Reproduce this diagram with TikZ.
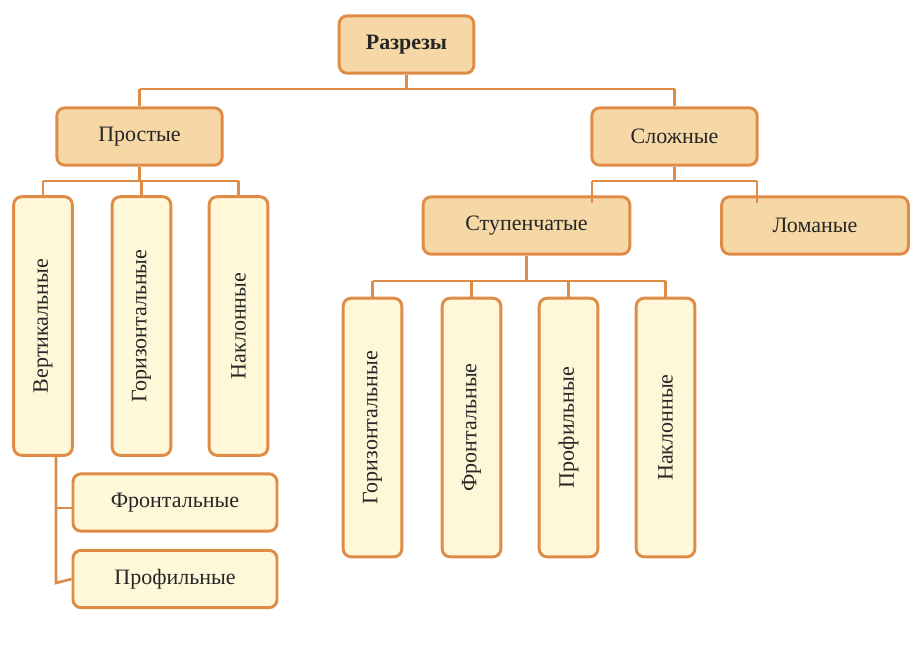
\documentclass[tikz,border=0pt]{standalone}
\usepackage{fontspec}
\setmainfont{Liberation Serif}
\definecolor{edge}{RGB}{222,140,70}
\definecolor{dark}{RGB}{246,216,166}
\definecolor{light}{RGB}{254,248,216}
\tikzset{
  box/.style={draw=edge,line width=2.2pt,rounded corners=6pt,inner sep=0pt,
    font=\fontsize{16.5}{19}\selectfont,text=black!85},
  main/.style={box,fill=dark},
  sub/.style={box,fill=light},
  upright/.style={rotate=90},
  link/.style={draw=edge,line width=2pt}
}
\begin{document}
\begin{tikzpicture}[x=0.75pt,y=0.75pt,yscale=-1,xscale=1]
\useasboundingbox (0,0) rectangle (916,646);

% top levels
\node [main,minimum width=101pt,minimum height=43pt,font=\fontsize{16.5}{19}\selectfont\bfseries] (cuts) at (406.5,44.5) {Разрезы};
\node [main,minimum width=124pt,minimum height=43pt] (simple) at (139.5,136.5) {Простые};
\node [main,minimum width=124pt,minimum height=43pt] (complex) at (674.5,136.5) {Сложные};
\node [main,minimum width=155pt,minimum height=43pt] (step) at (526.5,225.5) {Ступенчатые};
\node [main,minimum width=140pt,minimum height=43pt] (broken) at (815,225.5) {Ломаные};

% simple branch
\node [sub,upright,minimum width=194pt,minimum height=44pt] (vert) at (43,326) {Вертикальные};
\node [sub,upright,minimum width=194pt,minimum height=44pt] (horiz) at (141.5,326) {Горизонтальные};
\node [sub,upright,minimum width=194pt,minimum height=44pt] (incl) at (238.5,326) {Наклонные};
\node [sub,minimum width=153pt,minimum height=43pt] (front) at (175,502.5) {Фронтальные};
\node [sub,minimum width=153pt,minimum height=43pt] (prof) at (175,579) {Профильные};

% stepped branch
\node [sub,upright,minimum width=194pt,minimum height=44pt] (shoriz) at (372.5,427.5) {Горизонтальные};
\node [sub,upright,minimum width=194pt,minimum height=44pt] (sfront) at (471.5,427.5) {Фронтальные};
\node [sub,upright,minimum width=194pt,minimum height=44pt] (sprof) at (568.5,427.5) {Профильные};
\node [sub,upright,minimum width=194pt,minimum height=44pt] (sincl) at (665.5,427.5) {Наклонные};

% connectors
\coordinate (cutsbus) at (406.5,89);
\coordinate (simplebus) at (139.5,181);
\coordinate (complexbus) at (674.5,181);
\coordinate (stepbus) at (526.5,281);
\path[link] (cuts) -- (cutsbus) (simple.north |- cutsbus) -- (complex.north |- cutsbus);
\path[link] (simple.north |- cutsbus) -- (simple.north) (complex.north |- cutsbus) -- (complex.north);
\path[link] (simple) -- (simplebus) (vert.east |- simplebus) -- (incl.east |- simplebus);
\foreach \n in {vert,horiz,incl} \path[link] (\n.east |- simplebus) -- (\n.east);
\path[link] (complex) -- (complexbus) (592,181) -- (757,181);
\path[link] (592,181) -- (592,203) (757,181) -- (757,203);
\path[link] (step) -- (stepbus) (shoriz.east |- stepbus) -- (sincl.east |- stepbus);
\foreach \n in {shoriz,sfront,sprof,sincl} \path[link] (\n.east |- stepbus) -- (\n.east);
\coordinate (vfoot) at (56,455);
\path[link] (vfoot) -- (56,583) -- (prof.west);
\path[link] (56,508) -- (front.west |- 56,508);
\end{tikzpicture}
\end{document}
